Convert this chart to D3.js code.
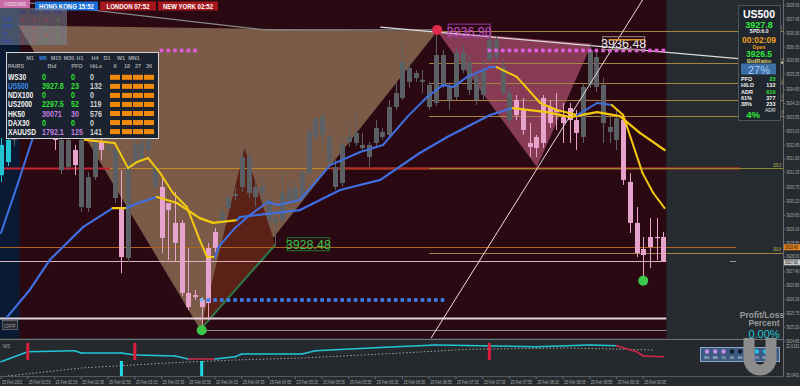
<!DOCTYPE html>
<html>
<head>
<meta charset="utf-8">
<script src="https://cdn.jsdelivr.net/npm/d3@7"></script>
<style>
body{margin:0;background:#262b2f;}
svg{display:block;font-family:"Liberation Sans",Arial,sans-serif;}
</style>
</head>
<body>
<div class="chart"></div>
<script>
// ---- data (US500 M5, 25 Feb 2021) ----
const opens = [3931.25,3931.77,3932.65,3933.76,3934.56,3934.16,3934.80,3933.92,3933.28,3931.45,
 3931.57,3932.25,3929.98,3929.94,3931.17,3932.57,3932.29,3930.34,3929.98,3927.95,
 3931.77,3931.85,3932.25,3930.78,3930.78,3930.14,3929.35,3929.35,3926.56,3926.48,
 3926.28,3928.35,3928.99,3929.38,3929.94,3930.42,3930.78,3930.54,3930.38,3930.54,
 3929.46,3929.35,3929.46,3930.26,3930.26,3930.38,3931.33,3932.77,3932.85,3931.77,
 3930.78,3930.94,3932.57,3932.53,3932.33,3931.97,3932.53,3932.77,3932.85,3933.96,
 3934.32,3934.96,3935.12,3934.96,3933.96,3934.12,3934.84,3934.24,3934.36,3935.43,
 3934.64,3934.24,3934.44,3935.83,3935.95,3934.52,3933.44,3934.24,3933.84,3932.53,
 3932.77,3934.32,3933.96,3933.84,3933.56,3933.92,3933.44,3932.77,3934.84,3934.76,
 3933.32,3932.97,3932.65,3933.44,3930.98,3929.35,3928.31,3928.79,3928.79,3928.79];
const closes = [3932.45,3932.65,3933.76,3934.56,3934.16,3934.80,3933.92,3933.28,3932.65,3932.65,
 3932.65,3931.65,3932.65,3931.17,3932.65,3932.25,3932.41,3932.25,3927.99,3931.73,
 3932.45,3932.53,3932.65,3931.57,3928.75,3929.86,3928.55,3926.56,3926.00,3926.40,
 3926.00,3926.16,3928.35,3929.78,3930.34,3930.50,3931.97,3931.97,3930.78,3930.78,
 3930.26,3929.54,3930.54,3930.66,3930.74,3931.33,3932.97,3933.52,3933.56,3932.77,
 3931.57,3932.45,3932.77,3932.93,3932.45,3932.45,3933.13,3932.97,3933.96,3934.52,
 3935.75,3935.51,3935.31,3935.04,3934.84,3936.03,3936.03,3934.76,3936.11,3936.11,
 3935.75,3935.24,3935.43,3936.63,3936.63,3935.55,3934.52,3933.64,3933.05,3932.37,
 3932.33,3932.53,3933.32,3933.76,3933.32,3933.44,3932.93,3934.76,3936.23,3935.95,
 3934.84,3933.17,3933.52,3931.06,3929.35,3928.15,3928.07,3928.39,3928.75,3927.80];
const highs = [3932.73,3933.13,3934.24,3935.12,3934.88,3935.35,3935.04,3934.24,3933.52,3932.89,
 3932.81,3932.45,3932.81,3931.37,3932.85,3932.73,3932.65,3932.45,3931.45,3931.85,
 3932.65,3932.73,3932.81,3931.73,3931.17,3930.14,3930.58,3929.46,3928.35,3926.68,
 3926.40,3928.55,3929.15,3929.94,3930.50,3930.74,3932.33,3932.25,3931.06,3931.17,
 3930.38,3929.86,3931.33,3931.06,3930.98,3931.45,3933.13,3933.56,3933.84,3932.89,
 3931.85,3932.65,3933.24,3933.76,3932.93,3932.57,3933.44,3933.13,3934.24,3934.92,
 3936.55,3935.83,3935.43,3935.43,3934.96,3936.99,3936.23,3934.88,3936.31,3936.43,
 3936.03,3935.43,3935.83,3936.83,3936.79,3935.83,3934.72,3934.44,3934.32,3933.32,
 3932.85,3934.44,3934.24,3934.52,3934.12,3934.12,3933.84,3934.92,3936.51,3936.15,
 3935.12,3933.56,3933.84,3933.56,3931.33,3929.98,3928.79,3929.54,3929.54,3928.99];
const lows = [3930.98,3931.61,3932.41,3933.52,3933.84,3934.00,3933.52,3932.89,3932.25,3931.29,
 3931.45,3931.25,3929.78,3929.78,3931.06,3931.85,3932.05,3930.14,3927.35,3927.79,
 3931.61,3931.69,3932.01,3930.66,3928.15,3927.87,3927.79,3926.44,3925.88,3926.28,
 3925.17,3925.48,3928.19,3929.23,3929.78,3930.26,3930.58,3930.34,3929.98,3929.98,
 3929.19,3928.47,3929.35,3930.06,3930.10,3930.26,3931.21,3932.65,3932.37,3931.65,
 3930.66,3930.78,3932.37,3932.41,3932.25,3931.57,3932.41,3932.65,3932.73,3933.84,
 3934.24,3934.72,3934.96,3934.52,3933.84,3934.00,3934.72,3933.84,3934.24,3935.31,
 3934.44,3934.04,3934.24,3935.75,3935.75,3934.40,3933.24,3933.44,3932.85,3931.97,
 3931.97,3932.33,3933.13,3933.05,3932.53,3932.53,3932.25,3932.53,3934.72,3934.56,
 3932.53,3932.53,3932.25,3930.86,3928.95,3927.99,3927.20,3927.55,3927.87,3927.79];
const cyanBars = [0, 1];

// moving averages: [bar, price, 'b' rising / 'y' falling]
const maFast = [[0,3928.95,'b'],[2.5,3930.90,'b'],[4.8,3932.77,'b'],[7,3933.84,'b'],[9.5,3933.76,'y'],
 [12.6,3932.65,'y'],[17,3932.53,'y'],[19,3931.53,'y'],[20.3,3931.77,'y'],[22,3931.93,'y'],
 [23.8,3931.33,'y'],[25.7,3930.54,'y'],[27.8,3929.98,'y'],[29.7,3928.67,'y'],[30.8,3927.99,'y'],
 [32,3927.99,'y'],[32.5,3928.39,'b'],[35,3929.15,'b'],[37.2,3929.66,'b'],[39.9,3930.18,'b'],
 [41.3,3930.06,'b'],[44.7,3930.26,'b'],[49.2,3931.65,'b'],[53.7,3932.17,'b'],[57.1,3932.45,'b'],
 [60.7,3933.56,'b'],[63.7,3934.36,'b'],[66.1,3934.84,'b'],[67.6,3934.76,'b'],[69.7,3935.16,'b'],
 [73.1,3935.55,'b'],[74.1,3935.55,'b'],[77.1,3935.16,'y'],[80.6,3934.12,'y'],[83.1,3933.84,'y'],
 [86.1,3933.64,'y'],[89.1,3934.12,'b'],[91.3,3934.04,'b'],[93,3933.64,'y'],[95.9,3931.33,'y'],
 [97.5,3930.54,'y'],[99.2,3929.94,'y']];
const maSlow = [[0.9,3925.60,'b'],[4.3,3926.68,'b'],[7.3,3927.88,'b'],[12.3,3929.19,'b'],[16.7,3929.94,'b'],
 [18.8,3929.94,'y'],[20.5,3930.14,'b'],[23.3,3930.38,'b'],[26.3,3930.14,'y'],[29.7,3929.54,'y'],
 [31.7,3929.35,'y'],[35.3,3929.46,'y'],[35.7,3929.58,'b'],[44.7,3929.86,'b'],[50.7,3930.66,'b'],
 [56.7,3931.06,'b'],[62.6,3932.13,'b'],[66.7,3932.77,'b'],[73.1,3933.64,'b'],[76.5,3933.92,'b'],
 [81.6,3933.76,'y'],[85.1,3933.56,'y'],[89.1,3933.76,'y'],[92.5,3933.60,'y'],[95.5,3932.93,'y'],
 [99.2,3932.25,'y']];

// harmonic pattern points [bar, price]
const patternXAB = [[2.6,3937.20],[29.8,3925.10],[65.2,3936.98]];
const patternInner = [[29.8,3925.10],[36.4,3932.33],[41,3928.48]];
const patternBCD = [[65.2,3936.98],[80.1,3931.57],[88.3,3936.48]];

// fibonacci retracement
const fibHigh = 3936.98, fibLow = 3931.53, fibStart = 64;
const fibLevels = [0, 23.6, 38.2, 50.0, 61.8, 100.0, 161.8];

// horizontal levels
const levelPrices = [3931.53, 3928.40, 3927.85, 3925.57, 3925.09];

// marker rows
const blueRun = [30, 66], bluePrice = 3926.28;
const pinkRuns = [[24, 29], [73, 99]], pinkPrice = 3936.21;

// price tags
const tags = [{bar: 65.2, price: 3936.98, text: '3936.98'},
              {bar: 88.3, price: 3936.48, text: '3936.48'},
              {bar: 41, price: 3928.48, text: '3928.48'}];
const greenDots = [[30, 3925.08], [96, 3927.05]];
const redDots = [[65.2, 3937.03]];

// indicator
const indLine = [[0,28.13,'c'],[4,30.46,'c'],[11,30.69,'c'],[12,30.16,'c'],[18,30.16,'c'],[20,29.69,'c'],
 [26,29.46,'c'],[28,28.76,'c'],[32,28.76,'r'],[35,29.29,'c'],[36,29.92,'c'],[45,29.92,'c'],
 [47,30.69,'c'],[59,31.62,'c'],[65,32.02,'c'],[80,31.62,'c'],[88,32.02,'c'],[92,31.85,'c'],
 [95,30.46,'r'],[96,29.46,'r'],[99,29.29,'r']];
const indDots = [[0,24.64],[12,26.67],[25,27.83],[35,28.53],[45,28.99],[60,30.16],[70,31.02],[85,31.32],[97.5,30.85]];
const sigDown = [4, 20, 73];
const sigUp = [18, 30];

// axes
const priceTicks = [3938.00,3937.45,3936.90,3936.35,3935.80,3935.25,3934.65,3934.10,3933.55,3933.00,
 3932.45,3931.90,3931.35,3930.75,3930.20,3929.65,3929.10,3928.55,3928.00,3927.40,3926.85,3926.30,
 3925.75,3925.20,3924.65];
const indTicks = [32.0161, 25.0401];
const timeLabels = ['25 Feb 2021','25 Feb 01:55','25 Feb 02:15','25 Feb 02:35','25 Feb 02:55','25 Feb 03:15',
 '25 Feb 03:35','25 Feb 03:55','25 Feb 04:15','25 Feb 04:35','25 Feb 04:55','25 Feb 05:15','25 Feb 05:35',
 '25 Feb 05:55','25 Feb 06:15','25 Feb 06:35','25 Feb 06:55','25 Feb 07:15','25 Feb 07:35','25 Feb 07:55',
 '25 Feb 08:15','25 Feb 08:35','25 Feb 08:55','25 Feb 09:15','25 Feb 09:35'];

// dashboard tables
const tfs = ['M1','M5','M15','M30','H1','H4','D1','W1','MN1'];
const pairs = ['WS30','US500','NDX100','US2000','HK50','DAX30','XAUUSD'];
const bids = ['0','3927.8','0','2297.5','30071','0','1792.1'];
const pfos = ['0','23','0','52','30','0','125'];
const hilos = ['0','132','0','119','576','0','141'];
const mtfNames = ['TVE','OCE','TII','DML'];
const mtfCols = ['M5','M15','H1','H4'];
const mtfDir = [[-1,-1,-1,1],[-1,-1,1,1],[-1,-1,-1,1],[-1,-1,1,1]];
const infoRows = [['PFO','23'],['HILO','132'],['ADR','610'],['61%','377'],['38%','233']];

// ---- drawing ----
const W = 800, H = 386, plotRight = 783, mainBottom = 338;
const x = d3.scaleLinear().domain([0, 99]).range([1, 663.3]);
const y = d3.scaleLinear().domain([3938, 3924.65]).range([5.5, 341]);
const yi = d3.scaleLinear().domain([25.0401, 32.0161]).range([375, 345]);

const svg = d3.select('.chart').append('svg').attr('width', W).attr('height', H);
svg.append('rect').attr('width', W).attr('height', H).attr('fill', '#262b2f');

svg.append('clipPath').attr('id', 'mainclip').append('rect')
  .attr('width', plotRight).attr('height', mainBottom);
const main = svg.append('g').attr('clip-path', 'url(#mainclip)');

// sessions
main.append('rect').attr('x', 0).attr('y', 0).attr('width', x(2.8)).attr('height', mainBottom).attr('fill', '#0b1a33');
main.append('rect').attr('x', x(2.8)).attr('y', 0).attr('width', x(99.45) - x(2.8)).attr('height', mainBottom).attr('fill', '#2a0913');

const pt = p => [x(p[0]), y(p[1])];
const poly = pts => 'M' + pts.map(p => pt(p).join(',')).join('L') + 'Z';
main.append('path').attr('d', poly(patternXAB)).attr('fill', '#7b5b47');
main.append('path').attr('d', poly(patternInner)).attr('fill', '#5b2016');
main.append('path').attr('d', poly(patternBCD)).attr('fill', '#873b55');
main.append('line')
  .attr('x1', x(patternInner[0][0])).attr('y1', y(patternInner[0][1]))
  .attr('x2', x(patternInner[2][0])).attr('y2', y(patternInner[2][1]))
  .attr('stroke', '#2d7a4c').attr('stroke-width', 2);

// horizontal levels
const hl = (p, x1, x2, c, w) => main.append('line').attr('x1', x1).attr('x2', x2)
  .attr('y1', Math.round(y(p)) + 0.5).attr('y2', Math.round(y(p)) + 0.5).attr('stroke', c).attr('stroke-width', w);
hl(levelPrices[0], 0, x(16.3), '#c42434', 2);
hl(levelPrices[0], x(16.3), x(49.2), '#c58a24', 1);
hl(levelPrices[0], x(49.2), 740, '#a8321f', 2.5);
hl(levelPrices[1], 0, 736, '#b0621e', 1);
hl(levelPrices[2], 0, x(99.45), '#d6b3bd', 1);
hl(levelPrices[2], 730, 736, '#9a9a9a', 1);
hl(levelPrices[3], 0, x(99.45), '#e2d2da', 2);
hl(levelPrices[4], x(30.2), x(99.45), '#8e8e8e', 1);

// fibonacci
fibLevels.forEach(l => {
  const p = fibHigh - l / 100 * (fibHigh - fibLow);
  hl(p, x(fibStart), plotRight, l === 100 ? '#8c8a2e' : '#a68244', 1);
  const lx = l >= 100 ? 773 : 777.2;
  main.append('text').attr('transform', `translate(${lx},${y(p) - 1.5}) scale(0.7,1)`)
    .attr('font-size', 4.6).attr('fill', '#c8c050').text(l.toFixed(1));
});

// trendlines
main.append('path').attr('d', 'M' + [[-0.5, 3938.25], [39.4, 3937.03], [65.2, 3937.03]].map(p => pt(p).join(',')).join('L'))
  .attr('fill', 'none').attr('stroke', '#8c8c8c').attr('stroke-width', 1.2);
main.append('line').attr('x1', x(56.7)).attr('y1', y(3937.14)).attr('x2', x(119.4)).attr('y2', y(3935.67))
  .attr('stroke', '#dcdcdc').attr('stroke-width', 1.2);

// candles
const candles = main.append('g');
d3.range(opens.length).forEach(i => {
  const bull = closes[i] >= opens[i];
  const col = cyanBars.includes(i) ? '#22c4d4' : (bull ? '#5b6064' : '#e6a3cb');
  const cx = Math.round(x(i)) + 0.5;
  candles.append('line').attr('x1', cx).attr('x2', cx).attr('y1', y(highs[i])).attr('y2', y(lows[i]))
    .attr('stroke', col).attr('stroke-width', 1);
  const top = y(Math.max(opens[i], closes[i])), bot = y(Math.min(opens[i], closes[i]));
  candles.append('rect').attr('x', cx - 2.5).attr('y', top).attr('width', 5)
    .attr('height', Math.max(1.2, bot - top)).attr('fill', col);
});

// diagonal white line
main.append('line').attr('x1', x(64.3)).attr('y1', mainBottom).attr('x2', x(95.9)).attr('y2', 0)
  .attr('stroke', '#e8e0e0').attr('stroke-width', 1);

// moving averages
const drawMA = (arr, w) => {
  for (let i = 1; i < arr.length; i++) {
    main.append('line')
      .attr('x1', x(arr[i - 1][0])).attr('y1', y(arr[i - 1][1]))
      .attr('x2', x(arr[i][0])).attr('y2', y(arr[i][1]))
      .attr('stroke', arr[i][2] === 'y' ? '#f2c811' : '#3f6fe0')
      .attr('stroke-width', w).attr('stroke-linecap', 'round');
  }
};
drawMA(maSlow, 2.2);
drawMA(maFast, 2);

// marker rows
d3.range(blueRun[0], blueRun[1] + 1).forEach((b, k) => {
  main.append('rect').attr('x', x(b) - 1.8).attr('y', y(bluePrice) - 1.8).attr('width', 3.6).attr('height', 3.6)
    .attr('fill', k === 0 ? '#8ab8f4' : '#3b82ef');
});
pinkRuns.forEach(r => d3.range(r[0], r[1] + 1).forEach(b => {
  main.append('rect').attr('x', x(b) - 1.8).attr('y', y(pinkPrice) - 1.8).attr('width', 3.6).attr('height', 3.6)
    .attr('fill', '#e25ee0');
}));

// dots
greenDots.forEach(d => main.append('circle').attr('cx', x(d[0])).attr('cy', y(d[1])).attr('r', 5).attr('fill', '#3cc64a'));
redDots.forEach(d => main.append('circle').attr('cx', x(d[0])).attr('cy', y(d[1])).attr('r', 5).attr('fill', '#e02848'));

// price tags
const tagStyle = [['#c64cc8', '#9a3aa0'], ['#e6e6e6', '#a09080'], ['#3fc14a', '#1f7a2c']];
tags.forEach((t, k) => {
  const tx = x(t.bar) + (k === 2 ? 12 : 11), ty = y(t.price);
  main.append('rect').attr('x', tx).attr('y', ty - 7).attr('width', 42).attr('height', 13)
    .attr('fill', 'none').attr('stroke', tagStyle[k][1]).attr('stroke-width', 1);
  main.append('text').attr('x', tx + 21).attr('y', ty + 4.5).attr('text-anchor', 'middle')
    .attr('font-size', 12.5).attr('fill', tagStyle[k][0]).text(t.text);
});
main.append('line').attr('x1', x(88.3) + 17).attr('x2', x(88.3) + 52).attr('y1', y(3936.48) - 4).attr('y2', y(3936.48) - 4)
  .attr('stroke', '#d8962c').attr('stroke-width', 1.5);

// OFF button
svg.append('rect').attr('x', 2.5).attr('y', 320.5).attr('width', 15).attr('height', 9).attr('fill', '#26282e').attr('stroke', '#5a5e66');
svg.append('text').attr('x', 10).attr('y', 327.5).attr('text-anchor', 'middle').attr('font-size', 6).attr('fill', '#9a9a9a').text('OFF');

// ---- indicator panel ----
svg.append('rect').attr('x', 0).attr('y', 339).attr('width', plotRight).attr('height', 37).attr('fill', '#25292d');
svg.append('line').attr('x1', 0).attr('x2', plotRight).attr('y1', 339.5).attr('y2', 339.5).attr('stroke', '#707478');
svg.append('line').attr('x1', 0).attr('x2', plotRight).attr('y1', 376.5).attr('y2', 376.5).attr('stroke', '#55595d');
svg.append('clipPath').attr('id', 'indclip').append('rect').attr('x', 0).attr('y', 340).attr('width', plotRight).attr('height', 36);
const ind = svg.append('g').attr('clip-path', 'url(#indclip)');
ind.append('text').attr('x', 3).attr('y', 348).attr('font-size', 5).attr('fill', '#9a9a9a').text('M5');
ind.append('path').attr('d', d3.line().x(d => x(d[0])).y(d => yi(d[1]))(indDots))
  .attr('fill', 'none').attr('stroke', '#a0a0a0').attr('stroke-width', 1).attr('stroke-dasharray', '1.5,2');
for (let i = 1; i < indLine.length; i++) {
  ind.append('line').attr('x1', x(indLine[i - 1][0])).attr('y1', yi(indLine[i - 1][1]))
    .attr('x2', x(indLine[i][0])).attr('y2', yi(indLine[i][1]))
    .attr('stroke', indLine[i][2] === 'r' ? '#d2264a' : '#22c6d6').attr('stroke-width', 1.6).attr('stroke-linecap', 'round');
}
sigDown.forEach(b => ind.append('rect').attr('x', x(b) - 1.5).attr('y', 343).attr('width', 3).attr('height', 17).attr('fill', '#d8203e'));
sigUp.forEach(b => ind.append('rect').attr('x', x(b) - 1.5).attr('y', 361).attr('width', 3).attr('height', 17).attr('fill', '#22d6e6'));

// ---- axes ----
const axisText = (tx, ty, s) => svg.append('text').attr('transform', `translate(${tx},${ty}) scale(0.74,1)`)
  .attr('font-size', 5).attr('fill', '#a8a8a8').text(s);
svg.append('line').attr('x1', plotRight + 0.5).attr('x2', plotRight + 0.5).attr('y1', 0).attr('y2', 377).attr('stroke', '#6a6e72');
priceTicks.forEach(p => {
  svg.append('line').attr('x1', plotRight).attr('x2', plotRight + 2).attr('y1', y(p)).attr('y2', y(p)).attr('stroke', '#6a6e72');
  axisText(plotRight + 3, y(p) + 1.6, p.toFixed(2));
});
indTicks.forEach(v => axisText(plotRight + 3, yi(v) + (v > 30 ? 3 : 1.6), v.toFixed(4)));
const priceBox = (p, fill, tc, t) => {
  svg.append('rect').attr('x', plotRight + 1).attr('y', y(p) - 2.5).attr('width', 16).attr('height', 6).attr('fill', fill);
  svg.append('text').attr('transform', `translate(${plotRight + 2},${y(p) + 2.3}) scale(0.74,1)`)
    .attr('font-size', 4.8).attr('fill', tc).text(t);
};
priceBox(levelPrices[1], '#e0801e', '#2a1a0a', '3928.40');
priceBox(3927.80, '#c8c8c8', '#202020', '3927.80');

timeLabels.forEach((t, k) => {
  const tx = x(k * 4);
  svg.append('line').attr('x1', tx).attr('x2', tx).attr('y1', 377).attr('y2', 379).attr('stroke', '#6a6e72');
  axisText(tx + 1, 384, t);
});

// ---- overlays ----
// top strip
svg.append('rect').attr('x', 0).attr('y', 0).attr('width', 30).attr('height', 8).attr('fill', '#c86aa6');
svg.append('text').attr('x', 15).attr('y', 6).attr('text-anchor', 'middle').attr('font-size', 5).attr('fill', '#f4e4ee').text('US500M5');
[['HONG KONG 15:52', 35, 63, '#1b6fd8'], ['LONDON 07:52', 100, 56, '#a3161c'], ['NEW YORK 02:52', 158, 60, '#a3161c']]
  .forEach(b => {
    svg.append('rect').attr('x', b[1]).attr('y', 1.5).attr('width', b[2]).attr('height', 9).attr('fill', b[3]);
    svg.append('text').attr('transform', `translate(${b[1] + b[2] / 2},9) scale(0.86,1)`).attr('text-anchor', 'middle')
      .attr('font-size', 7).attr('font-weight', 'bold').attr('fill', '#ffffff').text(b[0]);
  });

// mtf arrows table
svg.append('rect').attr('x', 0).attr('y', 8).attr('width', 67).attr('height', 37).attr('fill', '#7a8496').attr('opacity', 0.55);
mtfCols.forEach((c, j) => svg.append('text').attr('x', 22 + j * 12).attr('y', 13.5).attr('text-anchor', 'middle')
  .attr('font-size', 5).attr('fill', '#283a8a').text(c));
mtfNames.forEach((n, r) => {
  const ry = 21 + r * 7.3;
  svg.append('text').attr('x', 2).attr('y', ry).attr('font-size', 5).attr('fill', '#2848c8').text(n);
  mtfDir[r].forEach((d, j) => svg.append('text').attr('x', 22 + j * 12).attr('y', ry + 0.5).attr('text-anchor', 'middle')
    .attr('font-size', 7).attr('font-weight', 'bold').attr('fill', d > 0 ? '#38c038' : '#e83030').text(d > 0 ? '↑' : '↓'));
});

// pairs dashboard
const tb = svg.append('g');
tb.append('rect').attr('x', 6.5).attr('y', 52.5).attr('width', 152).attr('height', 86).attr('fill', '#1b2330').attr('stroke', '#d4d4d4');
const tfx = [30, 43, 56, 69, 80, 95, 107, 121, 134];
tfs.forEach((t, j) => tb.append('text').attr('x', tfx[j]).attr('y', 60).attr('text-anchor', 'middle')
  .attr('font-size', 5.5).attr('font-weight', 'bold').attr('fill', t === 'M5' ? '#3a8ef0' : '#a0a4aa').text(t));
[['PAIRS', 16], ['Bid', 52], ['PFO', 77], ['HiLo', 96], ['9', 115], ['18', 127], ['27', 138], ['36', 149]]
  .forEach(h => tb.append('text').attr('x', h[1]).attr('y', 68).attr('text-anchor', 'middle')
    .attr('font-size', 5.5).attr('font-weight', 'bold').attr('fill', '#a0a4aa').text(h[0]));
const cond = (g, tx, ty, s, size, fill, sx) => g.append('text')
  .attr('transform', `translate(${tx},${ty}) scale(${sx},1)`)
  .attr('font-size', size).attr('font-weight', 'bold').attr('fill', fill).text(s);
pairs.forEach((p, r) => {
  const ry = 80.3 + r * 9.05;
  const vcol = (p === 'HK50' || p === 'XAUUSD') ? '#c47ee0' : '#2ee02e';
  cond(tb, 8, ry, p, 9, p === 'US500' ? '#3a8ef0' : '#f2f2f2', 0.74);
  cond(tb, 42, ry, bids[r], 8.5, vcol, 0.84);
  cond(tb, 71, ry, pfos[r], 8.5, vcol, 0.84);
  cond(tb, 90, ry, hilos[r], 8.5, '#d0d0d0', 0.84);
  [110, 122, 133, 144].forEach(bx => tb.append('rect').attr('x', bx).attr('y', ry - 5.5).attr('width', 10).attr('height', 5).attr('fill', '#f08a0c'));
});

// symbol info panel
const ip = svg.append('g');
ip.append('rect').attr('x', 738.5).attr('y', 5.5).attr('width', 42).attr('height', 115).attr('fill', '#1f262e').attr('stroke', '#4c545c');
const it = (s, ty, size, fill, bold) => ip.append('text').attr('x', 759).attr('y', ty).attr('text-anchor', 'middle')
  .attr('font-size', size).attr('font-weight', bold ? 'bold' : 'normal').attr('fill', fill).text(s);
it('US500', 18, 10.5, '#ffffff', true);
it('3927.8', 27.5, 9, '#2ee83a', true);
it('SPD:6.0', 33, 5, '#f0f0f0', true);
it('00:02:09', 43, 8.5, '#f0a020', true);
it('Open', 48.5, 5, '#f0a020', true);
it('3926.5', 56.5, 8.5, '#2ee83a', true);
ip.append('rect').attr('x', 741).attr('y', 63.5).attr('width', 35).attr('height', 11).attr('fill', '#3d6ea6');
it('BidRatio', 63, 6, '#d6cc72', true);
it('27%', 73.5, 11, '#a8cdf4', false);
infoRows.forEach((r, k) => {
  const ry = 81 + k * 6.25;
  ip.append('text').attr('x', 741).attr('y', ry).attr('font-size', 5.5).attr('font-weight', 'bold').attr('fill', '#f0f0f0').text(r[0]);
  ip.append('text').attr('x', 775.5).attr('y', ry).attr('text-anchor', 'end').attr('font-size', 5.5).attr('font-weight', 'bold')
    .attr('fill', (k === 0 || k === 2) ? '#2ee83a' : '#f0f0f0').text(r[1]);
});
ip.append('text').attr('x', 753).attr('y', 117.5).attr('text-anchor', 'middle').attr('font-size', 9.5).attr('font-weight', 'bold').attr('fill', '#2ee83a').text('4%');
ip.append('text').attr('x', 765).attr('y', 112).attr('font-size', 5).attr('fill', '#e0e0e0').text('ADR');

// timeframe dots box + magnet
const dotCols = ['#c88ee8', '#c88ee8', '#c88ee8', '#141c28', '#141c28', '#22c4e6', '#22c4e6', '#22c4e6', '#22c4e6'];
const dotLbl = ['M1', 'M5', '15', '30', 'H1', 'H4', 'D1', 'W1', 'MN'];
svg.append('rect').attr('x', 700.5).attr('y', 347.5).attr('width', 79).attr('height', 14).attr('fill', '#3c5a82').attr('stroke', '#8ea6c6');
dotCols.forEach((c, k) => {
  svg.append('circle').attr('cx', 707 + k * 8.3).attr('cy', 351.5).attr('r', 2.2).attr('fill', c);
  svg.append('text').attr('x', 707 + k * 8.3).attr('y', 359).attr('text-anchor', 'middle').attr('font-size', 3.8).attr('fill', '#dfe6f0').text(dotLbl[k]);
});
svg.append('path').attr('d', 'M749,338 L749,359 A11,11 0 0 0 771,359 L771,338')
  .attr('fill', 'none').attr('stroke', '#8c8c8c').attr('stroke-width', 11);

svg.append('text').attr('x', 762).attr('y', 317.5).attr('text-anchor', 'middle').attr('font-size', 8.5).attr('font-weight', 'bold').attr('fill', '#9a9a9a').text('Profit/Loss');
svg.append('text').attr('x', 764).attr('y', 326).attr('text-anchor', 'middle').attr('font-size', 8.5).attr('font-weight', 'bold').attr('fill', '#9a9a9a').text('Percent');
svg.append('text').attr('x', 764).attr('y', 338).attr('text-anchor', 'middle').attr('font-size', 11).attr('fill', '#22c6d6').text('0.00%');
</script>
</body>
</html>
